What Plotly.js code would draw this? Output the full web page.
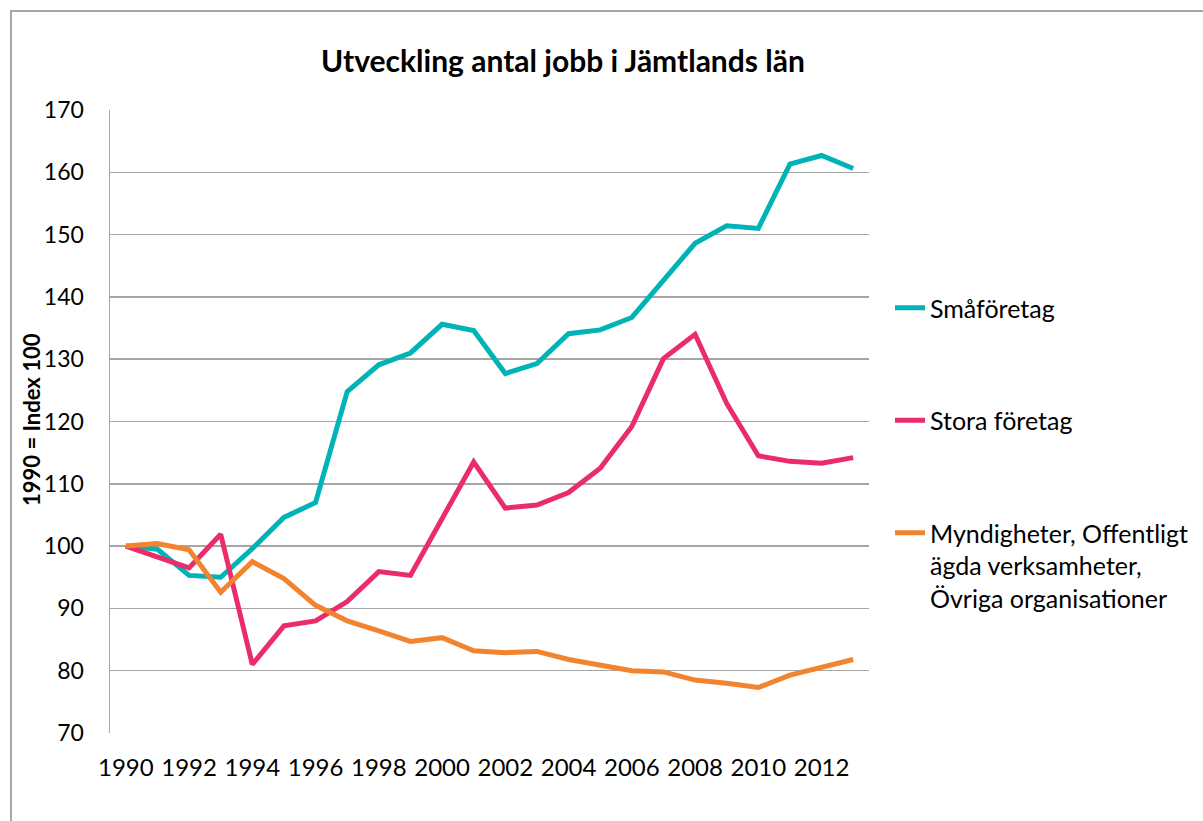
<!DOCTYPE html>
<html>
<head>
<meta charset="utf-8">
<script src="https://cdn.plot.ly/plotly-3.0.1.min.js"></script>
<style>
html,body{margin:0;padding:0;background:#fff;overflow:hidden;}
#frame{position:absolute;left:10px;top:10px;width:1400px;height:1000px;border:2px solid #a6a6a6;box-sizing:border-box;pointer-events:none;z-index:2;}
#chart{position:absolute;left:0;top:0;width:1203px;height:821px;}
</style>
</head>
<body>
<div id="chart"></div>
<div id="frame"></div>
<script>
const years = ["1990","1991","1992","1993","1994","1995","1996","1997","1998","1999","2000","2001","2002","2003","2004","2005","2006","2007","2008","2009","2010","2011","2012","2013"];
const yearTicks = ["1990","1992","1994","1996","1998","2000","2002","2004","2006","2008","2010","2012"];
const smaforetag = [100,99.5,95.3,95.0,99.6,104.6,107.0,124.8,129.1,131.0,135.6,134.6,127.7,129.3,134.1,134.7,136.7,142.7,148.6,151.4,151.0,161.3,162.7,160.6];
const storaForetag = [100,98.3,96.5,101.9,81.0,87.2,88.0,91.1,95.9,95.3,104.2,113.5,106.1,106.6,108.6,112.5,119.2,130.1,134.0,122.9,114.5,113.6,113.3,114.2];
const myndigheter = [100,100.4,99.4,92.6,97.5,94.8,90.5,88.0,86.4,84.7,85.3,83.2,82.9,83.1,81.8,80.8,80.0,79.8,78.5,78.0,77.3,79.3,80.6,81.8];
const seriesNames = ["Småföretag","Stora företag","Myndigheter, Offentligt<br>ägda verksamheter,<br>Övriga organisationer"];
const seriesColors = ["#00b3b7","#ea2c68","#f2842f"];
const yTicks = [70,80,90,100,110,120,130,140,150,160,170];
const yTitle = "1990 = Index 100";
const chartTitle = "Utveckling antal jobb i Jämtlands län";

const FONT = "Lato, 'Open Sans', sans-serif";
const data = [smaforetag, storaForetag, myndigheter].map((vals,i)=>({
  type:'scatter', mode:'lines', x:years, y:vals, name:seriesNames[i],
  legendgroup:'g'+i,
  line:{color:seriesColors[i], width:5}
}));

const layout = {
  width:1203, height:821,
  paper_bgcolor:'#fff', plot_bgcolor:'#fff',
  margin:{l:110, r:334, t:110, b:88, autoexpand:false},
  font:{family:FONT, size:24, color:'#000'},
  title:{text:'<b>'+chartTitle+'</b>', font:{family:FONT, size:30, color:'#000'},
    x:0.468, xref:'container', xanchor:'center', y:0.925, yref:'container', yanchor:'middle'},
  xaxis:{type:'category', categoryorder:'array', categoryarray:years,
    tickmode:'array', tickvals:yearTicks, ticktext:yearTicks, automargin:false,
    showgrid:false, zeroline:false, showline:false, ticks:'', ticklabelstandoff:18,
    tickfont:{family:FONT, size:24, color:'#000'}, range:[-0.5,23.5]},
  yaxis:{range:[70,170], tickmode:'array', tickvals:yTicks, showgrid:true, gridcolor:'#a6a6a6', gridwidth:1.5,
    zeroline:false, showline:true, linecolor:'#a6a6a6', linewidth:1.5, ticks:'', ticklabelstandoff:20, automargin:false,
    tickfont:{family:FONT, size:23, color:'#000'}},
  annotations:[{text:'<b>'+yTitle+'</b>', xref:'paper', yref:'paper', x:(31-110)/759, y:(733-420)/623,
    xanchor:'center', yanchor:'middle', textangle:-90, showarrow:false,
    font:{family:FONT, size:22, color:'#000'}}],
  showlegend:true,
  legend:{x:(890-110)/759, xref:'paper', xanchor:'left', y:(733-285)/623, yanchor:'top',
    traceorder:'grouped', tracegroupgap:77, valign:'top', bgcolor:'rgba(0,0,0,0)',
    font:{family:FONT, size:25, color:'#000'}, itemwidth:30}
};

Plotly.newPlot('chart', data, layout, {displayModeBar:false, staticPlot:true});
</script>
</body>
</html>
